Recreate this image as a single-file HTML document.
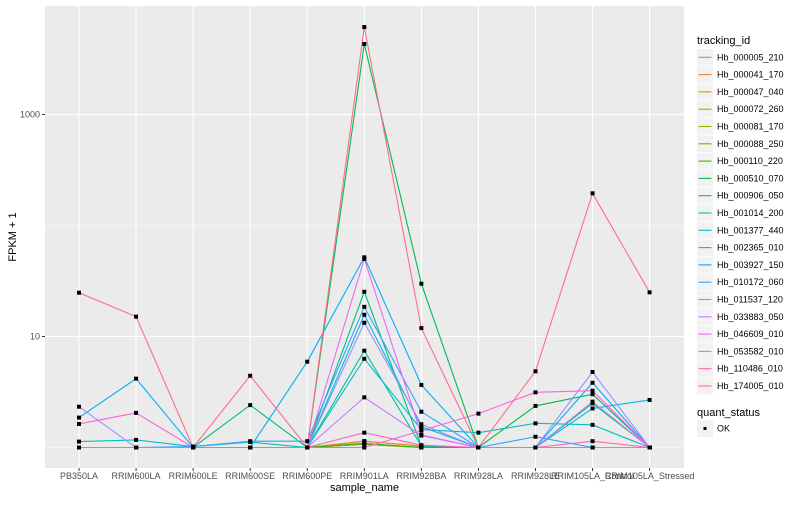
<!DOCTYPE html>
<html><head><meta charset="utf-8"><style>
body{margin:0;background:#fff;font-family:"Liberation Sans",sans-serif}
svg text{font-family:"Liberation Sans",sans-serif}
</style></head><body>
<svg id="chart" width="800" height="500" xmlns="http://www.w3.org/2000/svg">
<rect x="0" y="0" width="800" height="500" fill="#fff"/>
<rect id="panel" x="45" y="6" width="639" height="462" fill="#EBEBEB"/>
<g id="grid"></g><g id="lines"></g><g id="pts"></g><g id="axes"></g><g id="legend"></g>
</svg>
<script>
const categories=["PB350LA","RRIM600LA","RRIM600LE","RRIM600SE","RRIM600PE","RRIM901LA","RRIM928BA","RRIM928LA","RRIM928LE","RRIM105LA_Control","RRIM105LA_Stressed"];
const seriesIds=["Hb_000005_210","Hb_000041_170","Hb_000047_040","Hb_000072_260","Hb_000081_170","Hb_000088_250","Hb_000110_220","Hb_000510_070","Hb_000906_050","Hb_001014_200","Hb_001377_440","Hb_002365_010","Hb_003927_150","Hb_010172_060","Hb_011537_120","Hb_033883_050","Hb_046609_010","Hb_053582_010","Hb_110486_010","Hb_174005_010"];
const colors=["#F8766D","#EA8331","#D89000","#C09B00","#A3A500","#7CAE00","#39B600","#00BB4E","#00BF7D","#00C1A3","#00BFC4","#00BAE0","#00B0F6","#35A2FF","#9590FF","#C77CFF","#E76BF3","#FA62DB","#FF62BC","#FF6C91"];
const s01=[1,1,1,1,1,1.14,1.03,1,1,1,1];
const s02=[1,1,1,1,1,1.14,1.03,1,1,1,1];
const s03=[1,1,1,1,1,1.07,1,1,1,1,1];
const s04=[1,1,1,1,1,1.07,1,1,1,1,1];
const s05=[1,1,1,1,1,1.07,1,1,1,1,1];
const s06=[1,1,1,1,1,1.07,1,1,1,1,1];
const s07=[1,1,1,1,1,1.09,1,1,1,1,1];
const s08=[1,1,1,1,1,4316,29.9,1,2.37,3.02,1];
const s09=[1,1,1,2.41,1,25.3,1.03,1,1,2.5,1];
const s10=[1,1,1,1,1,7.45,1.03,1,1,1,1];
const s11=[1.13,1.17,1.02,1.12,1,6.3,1.45,1.36,1.65,1.6,1];
const s12=[1,1,1,1,1,15.7,1.54,1,1,2.25,2.68];
const s13=[1.86,4.17,1,1,5.93,51.7,3.66,1,1,3.83,1];
const s14=[1,1,1.02,1.14,1.14,18.5,2.1,1,1.25,1,1];
const s15=[2.33,1,1,1,1,13.3,1.62,1,1,4.79,1];
const s16=[1,1,1,1,1,2.83,1.28,1,1,2.59,1];
const s17=[1,1,1,1,1,50,1.3,1,1,1,1];
const s18=[1.63,2.05,1,1,1,1,1.42,2.02,3.14,3.25,1];
const s19=[1,1,1,1,1,1.36,1.05,1,1,1.14,1];
const s20=[24.8,15.1,1,4.43,1,6140,11.9,1,4.86,195,25];
const seriesValues=[s01,s02,s03,s04,s05,s06,s07,s08,s09,s10,s11,s12,s13,s14,s15,s16,s17,s18,s19,s20];
const yTicks=[10,1000];
const yTickLabels=["10","1000"];
const yMinor=[1,100];

const NS="http://www.w3.org/2000/svg";
const X0=79,DX=57.06;
function xs(i){return X0+i*DX;}
function ys(v){return 447.5-111*Math.log10(v);}
function mk(tag,attrs,parent){const e=document.createElementNS(NS,tag);for(const k in attrs)e.setAttribute(k,attrs[k]);parent.appendChild(e);return e;}
const grid=document.getElementById('grid'),lines=document.getElementById('lines'),pts=document.getElementById('pts'),axes=document.getElementById('axes'),legend=document.getElementById('legend');
yMinor.forEach(v=>{const l=mk('line',{x1:45,x2:684,y1:ys(v),y2:ys(v),stroke:'#fff','stroke-width':0.5},grid);

});
yTicks.forEach((v,i)=>{const l=mk('line',{x1:45,x2:684,y1:ys(v),y2:ys(v),stroke:'#fff','stroke-width':1.1},grid);


const t=mk('text',{x:40,y:ys(v)+3,'text-anchor':'end','font-size':9,fill:'#4D4D4D'},axes);t.textContent=yTickLabels[i];


const tk=mk('line',{x1:42,x2:45,y1:ys(v),y2:ys(v),stroke:'#333'},axes);

});
categories.forEach((c,i)=>{const l=mk('line',{x1:xs(i),x2:xs(i),y1:6,y2:468,stroke:'#fff','stroke-width':1.1},grid);


const tk=mk('line',{x1:xs(i),x2:xs(i),y1:468,y2:471,stroke:'#333'},axes);


const t=mk('text',{x:xs(i),y:479,'text-anchor':'middle','font-size':9,fill:'#4D4D4D'},axes);t.textContent=c;

});
seriesValues.forEach((vals,si)=>{const p=mk('polyline',{points:vals.map((v,i)=>xs(i)+','+ys(v)).join(' '),fill:'none',stroke:colors[si],'stroke-width':1.1},lines);


vals.forEach((v,i)=>{const r=mk('rect',{x:xs(i)-2,y:ys(v)-2,width:4,height:4,fill:'#000'},pts);

});});
const xt=mk('text',{x:364.5,y:491,'text-anchor':'middle','font-size':11,fill:'#000'},axes);xt.textContent='sample_name';


const yt=mk('text',{x:0,y:0,'text-anchor':'middle','font-size':11,fill:'#000',transform:'translate(16,237) rotate(-90)'},axes);yt.textContent='FPKM + 1';


const lt=mk('text',{x:697,y:44,'font-size':11,fill:'#000'},legend);lt.textContent='tracking_id';


seriesIds.forEach((id,i)=>{const cy=57.3+i*17.3;
const g=mk('g',{},legend);


mk('rect',{x:697,y:cy-8.3,width:16,height:16.6,fill:'#F2F2F2'},g);
mk('line',{x1:698.5,x2:711.5,y1:cy,y2:cy,stroke:colors[i],'stroke-width':1.1},g);
const t=mk('text',{x:717,y:cy+3,'font-size':9,fill:'#000'},g);t.textContent=id;});
const qt=mk('text',{x:697,y:416,'font-size':11,fill:'#000'},legend);qt.textContent='quant_status';


const qg=mk('g',{},legend);


mk('rect',{x:697,y:420,width:16,height:17,fill:'#F2F2F2'},qg);
mk('rect',{x:703.5,y:427,width:3,height:3,fill:'#000'},qg);
const qk=mk('text',{x:717,y:431.5,'font-size':9,fill:'#000'},qg);qk.textContent='OK';
</script>
</body></html>
